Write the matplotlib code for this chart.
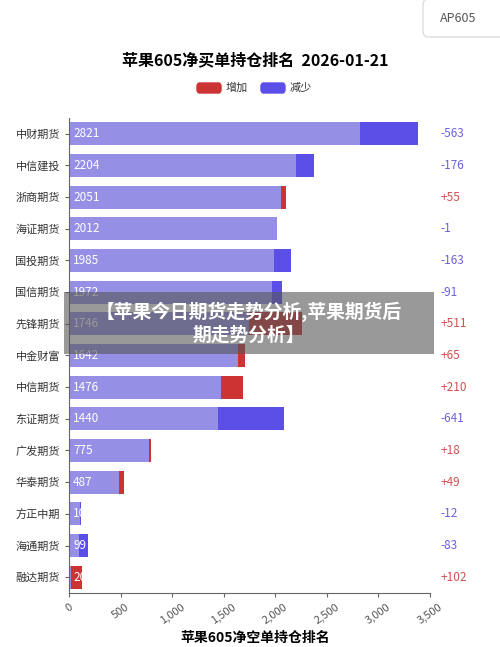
import matplotlib
matplotlib.use("Agg")
import matplotlib.pyplot as plt
from matplotlib.patches import FancyBboxPatch

plt.rcParams['font.family'] = ['Noto Sans CJK SC', 'DejaVu Sans']

brokers = ["中财期货","中信建投","浙商期货","海证期货","国投期货","国信期货","先锋期货","中金财富",
           "中信期货","东证期货","广发期货","华泰期货","方正中期","海通期货","融达期货"]
values = [2821,2204,2051,2012,1985,1972,1746,1642,1476,1440,775,487,102,99,20]
changes = [-563,-176,55,-1,-163,-91,511,65,210,-641,18,49,-12,-83,102]
ticks = [0,500,1000,1500,2000,2500,3000,3500]

W,H = 500,647
fig = plt.figure(figsize=(W/100,H/100),dpi=100)
ax = fig.add_axes([69/W, 1-593/H, 361/W, 475/H])
base_c = "#9590e6"; red = "#cc3333"; blue = "#5b4fe8"
n = len(brokers)
ys = list(range(n))
ax.barh(ys, values, height=0.72, color=base_c)
ax.barh(ys, [abs(c) for c in changes], left=values, height=0.72,
        color=[red if c>0 else blue for c in changes])
for y,v,c in zip(ys,values,changes):
    ax.text(40, y, str(v), color="white", va="center", ha="left", fontsize=8.5)
    ax.text(1.03, y, f"{c:+d}", transform=ax.get_yaxis_transform(), color="#d05050" if c>0 else "#6a60e0",
            va="center", ha="left", fontsize=8.5)
ax.set_ylim(n-0.5,-0.5)
ax.set_xlim(0,3500)
ax.set_yticks(ys); ax.set_yticklabels(brokers, fontsize=8, color="#333")
ax.set_xticks(ticks); ax.set_xticklabels([f"{t:,}" for t in ticks], rotation=35, fontsize=8, color="#555")
for s in ["top","right"]: ax.spines[s].set_visible(False)
ax.spines["left"].set_color("#666"); ax.spines["bottom"].set_color("#666")
ax.tick_params(axis="y", length=3, color="#666"); ax.tick_params(axis="x", length=3, color="#666")

fig.text(255/W, 1-60/H, "苹果605净买单持仓排名  2026-01-21", ha="center", va="center", fontsize=11.5, fontweight="bold")
fig.patches.append(FancyBboxPatch((197/W,1-93/H),24/W,10/H,boxstyle="round,pad=0,rounding_size=0.005",transform=fig.transFigure,color=red))
fig.text(226/W,1-88/H,"增加",fontsize=8,va="center",color="#333")
fig.patches.append(FancyBboxPatch((261/W,1-93/H),24/W,10/H,boxstyle="round,pad=0,rounding_size=0.005",transform=fig.transFigure,color=blue))
fig.text(290/W,1-88/H,"减少",fontsize=8,va="center",color="#333")
fig.patches.append(FancyBboxPatch((423/W,1-37/H),90/W,38/H,boxstyle="round,pad=0,rounding_size=0.01",transform=fig.transFigure,facecolor="white",edgecolor="#ddd"))
fig.text(458/W,1-18/H,"AP605",fontsize=9,va="center",ha="center",color="#555")
fig.patches.append(plt.Rectangle((64/W,1-354/H),370/W,62/H,transform=fig.transFigure,facecolor="#555555",alpha=0.6,zorder=5))
fig.text(249/W,1-323/H,"【苹果今日期货走势分析,苹果期货后\n期走势分析】",ha="center",va="center",fontsize=13.5,
         fontweight="bold",color="white",zorder=6,linespacing=1.25)
fig.text(255/W,1-638/H,"苹果605净空单持仓排名",ha="center",va="center",fontsize=10,fontweight="bold")
fig.savefig("out.png",dpi=100)
